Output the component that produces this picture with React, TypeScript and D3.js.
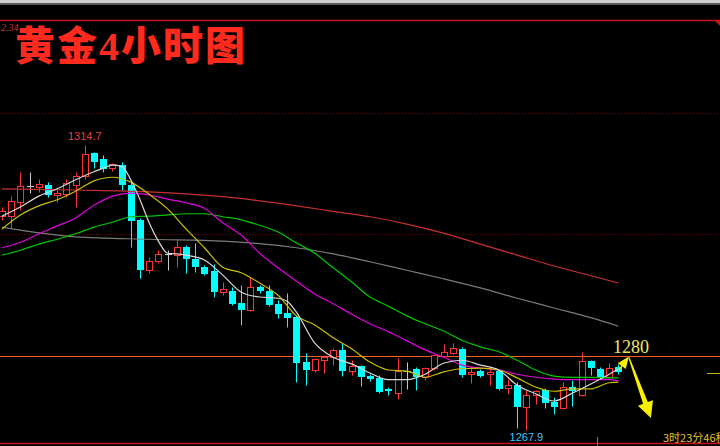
import React from "react";
import * as d3 from "d3";

// 4-hour gold candles (oldest first)
const opens = [1303.0,1303.0,1305.3,1308.0,1307.8,1308.1,1306.5,1306.6,1308.1,1309.6,1313.4,1312.4,1310.9,1311.4,1308.1,1302.4,1294.1,1295.6,1296.8,1296.6,1297.9,1296.0,1294.6,1294.0,1290.5,1290.7,1288.7,1287.6,1291.3,1290.7,1288.6,1287.1,1286.4,1279.0,1277.7,1279.3,1279.8,1281.0,1277.5,1278.4,1276.7,1276.4,1274.6,1273.9,1277.5,1277.9,1276.5,1278.0,1280.0,1280.5,1281.2,1277.0,1277.5,1277.0,1277.5,1274.7,1275.2,1271.6,1273.6,1274.4,1272.4,1271.4,1274.9,1273.6,1279.2,1277.9,1276.5,1278.2];
const highs = [1304.5,1306.3,1310.3,1310.3,1309.1,1308.6,1307.3,1309.1,1310.3,1314.7,1313.6,1313.1,1311.7,1311.9,1308.6,1302.7,1296.3,1297.4,1297.4,1299.1,1298.3,1298.6,1295.0,1295.1,1292.2,1291.3,1291.7,1293.0,1291.7,1291.7,1289.2,1290.4,1286.7,1280.5,1279.7,1280.2,1281.3,1282.1,1279.3,1278.5,1277.0,1276.9,1274.9,1279.7,1279.0,1278.2,1278.2,1280.2,1282.0,1282.1,1281.5,1278.4,1277.9,1278.4,1277.7,1276.2,1275.7,1274.4,1274.4,1274.7,1273.3,1275.7,1276.1,1280.7,1279.3,1278.2,1278.8,1278.7];
const lows = [1302.4,1301.1,1304.0,1306.8,1307.0,1306.2,1305.3,1306.2,1304.5,1309.1,1310.9,1310.3,1310.4,1307.3,1297.9,1292.8,1293.7,1295.3,1294.1,1294.6,1293.7,1293.8,1293.3,1289.7,1290.0,1288.4,1285.1,1287.4,1290.4,1288.2,1286.2,1284.8,1275.7,1275.2,1277.4,1277.2,1278.5,1276.7,1276.9,1275.1,1275.9,1273.9,1273.6,1272.9,1274.6,1274.4,1276.1,1277.7,1279.8,1280.4,1276.5,1275.6,1276.5,1275.2,1274.4,1273.7,1268.2,1267.9,1272.1,1271.4,1270.5,1271.3,1271.8,1273.4,1276.9,1276.2,1276.4,1277.0];
const closes = [1303.8,1305.5,1308.0,1308.0,1308.3,1306.5,1306.8,1308.5,1309.6,1313.2,1311.9,1310.8,1311.6,1308.1,1302.2,1294.1,1295.6,1296.8,1296.8,1297.9,1296.0,1294.6,1293.5,1290.5,1291.0,1288.6,1287.6,1291.3,1290.7,1288.4,1286.9,1286.2,1278.8,1277.7,1279.5,1279.8,1281.0,1277.5,1278.4,1276.5,1276.2,1274.1,1274.2,1277.5,1277.5,1276.5,1278.0,1280.2,1280.7,1281.3,1276.9,1277.4,1276.7,1277.4,1274.6,1275.2,1271.6,1273.6,1274.2,1272.3,1271.6,1274.9,1274.2,1279.2,1278.0,1276.5,1278.0,1277.4];

// Moving averages, read at candle positions
const ma5Idx = [0,2,4,6,8,10,11,12,13,14,15,16,17,18,19,20,22,24,26,28,30,31,32,34,36,38,40,42,44,46,48,50,52,54,56,58,60,62,64,66,67];
const ma5 = [1303.0,1304.5,1306.3,1307.5,1309.0,1310.3,1310.9,1311.4,1311.2,1309.0,1305.7,1301.9,1298.9,1296.9,1296.8,1296.6,1295.8,1293.3,1290.5,1289.7,1289.5,1289.0,1287.2,1282.1,1279.8,1278.7,1277.2,1276.1,1276.1,1277.0,1278.8,1279.3,1278.5,1277.7,1275.2,1273.8,1272.6,1273.9,1275.4,1277.0,1277.9];
const maIdx = [0,2,4,6,8,10,12,14,16,18,20,22,24,26,28,30,32,34,36,38,40,42,44,46,48,50,52,54,56,58,60,62,64,66,67];
const ma10 = [1300.9,1303.2,1304.7,1305.7,1307.1,1308.8,1309.4,1308.6,1306.6,1304.2,1300.9,1297.8,1294.6,1293.7,1292.0,1290.0,1286.6,1285.1,1283.0,1281.2,1279.0,1277.7,1277.5,1276.5,1277.4,1277.9,1278.0,1277.7,1276.4,1274.9,1274.2,1274.6,1274.6,1275.6,1275.7];
const ma20 = [1297.8,1298.7,1300.1,1301.4,1302.7,1304.8,1306.3,1306.8,1306.5,1305.8,1305.2,1304.3,1301.9,1299.9,1296.9,1294.5,1292.3,1290.2,1288.6,1286.9,1285.3,1284.0,1282.5,1281.0,1279.8,1278.5,1278.0,1277.7,1277.0,1276.5,1276.2,1276.1,1276.1,1276.1,1275.9];
const ma30 = [1296.6,1297.4,1298.4,1299.2,1300.1,1301.2,1302.0,1302.9,1303.0,1303.2,1303.4,1303.4,1302.9,1302.4,1301.5,1300.4,1298.6,1296.9,1294.5,1292.2,1289.7,1288.2,1286.6,1285.3,1284.1,1282.6,1281.5,1280.7,1279.3,1277.7,1276.7,1276.5,1276.5,1276.4,1276.4];
const longIdx = [0,8,16,24,32,36,40,44,48,52,56,60,64,67];
const ma60 = [1301.2,1299.6,1299.2,1298.9,1297.8,1296.8,1295.5,1294.1,1292.7,1291.2,1289.5,1287.9,1286.3,1284.9];
const ma120 = [1307.5,1307.3,1307.0,1306.2,1304.7,1303.8,1302.9,1301.7,1300.2,1298.4,1296.6,1294.8,1293.2,1292.0];

const gridLevels = [1280, 1300, 1320];
const keyLevel = 1280;
const title = "黄金";
const titleNum = "4";
const titleTail = "小时图";
const topLabel = "2.34";
const countdown = "3时23分46秒";

const W = 720;
const H = 446;
const UP = "#ff3434";
const DOWN = "#00ffff";
const DOJI = "#c8c8c8";

export default function App() {
  const n = closes.length;
  const x = d3.scaleLinear().domain([0, n - 1]).range([2, 2 + 9.2 * (n - 1)]);
  const y = d3.scaleLinear().domain([1280, 1320]).range([356, 112.8]);
  const cx = (i: number) => Math.round(x(i)) + 0.5;
  const py = (v: number) => Math.round(y(v)) + 0.5;

  const maLine = (idx: number[], vals: number[]) =>
    d3
      .line<number>()
      .x((_, k) => x(idx[k]))
      .y((v) => y(v))
      .curve(d3.curveMonotoneX)(vals) || "";

  const mas = [
    { idx: longIdx, vals: ma120, color: "#c83030" },
    { idx: longIdx, vals: ma60, color: "#7a7a7a" },
    { idx: maIdx, vals: ma30, color: "#00c800" },
    { idx: maIdx, vals: ma20, color: "#e000e0" },
    { idx: maIdx, vals: ma10, color: "#c8c000" },
    { idx: ma5Idx, vals: ma5, color: "#d8d8d8" },
  ];

  const hiIdx = d3.maxIndex(highs);
  const loIdx = d3.minIndex(lows);
  const hi = highs[hiIdx];
  const lo = lows[loIdx];

  // forecast arrows around the key level
  const smallTip: [number, number] = [x(n - 1) + 10.5, y(keyLevel) + 0.5];
  const smallTail: [number, number] = [x(n - 1) + 0.5, y(1277.7)];
  const dir = (a: [number, number], b: [number, number]) => {
    const dx = b[0] - a[0];
    const dy = b[1] - a[1];
    const l = Math.hypot(dx, dy);
    return [dx / l, dy / l];
  };
  const [sdx, sdy] = dir(smallTail, smallTip);
  const sBase = [smallTip[0] - 12 * sdx, smallTip[1] - 12 * sdy];
  const smallHead = [
    smallTip,
    [sBase[0] + 5 * -sdy, sBase[1] + 5 * sdx],
    [sBase[0] - 5 * -sdy, sBase[1] - 5 * sdx],
  ];

  const bigTop: [number, number] = [smallTip[0], smallTip[1] + 1];
  const bigTip: [number, number] = [bigTop[0] + 22, y(1269.8)];
  const [bdx, bdy] = dir(bigTop, bigTip);
  const px = -bdy;
  const pyv = bdx;
  const bBase = [bigTip[0] - 16 * bdx, bigTip[1] - 16 * bdy];
  const bigArrow = [
    [bigTop[0] - 0.6 * px, bigTop[1] - 0.6 * pyv],
    [bigTop[0] + 0.6 * px, bigTop[1] + 0.6 * pyv],
    [bBase[0] + 2.5 * px, bBase[1] + 2.5 * pyv],
    [bBase[0] + 8 * px, bBase[1] + 8 * pyv],
    bigTip,
    [bBase[0] - 8 * px, bBase[1] - 8 * pyv],
    [bBase[0] - 2.5 * px, bBase[1] - 2.5 * pyv],
  ];
  const pts = (a: number[][]) => a.map((p) => p.join(",")).join(" ");

  return (
    <svg
      width={W}
      height={H}
      style={{ position: "absolute", left: 0, top: 0, display: "block", background: "#000" }}
    >
      <rect x={0} y={0} width={W} height={H} fill="#000" />
      {/* window strip */}
      <rect x={0} y={0} width={W} height={3} fill="#cfcfcf" />
      <rect x={0} y={3} width={W} height={2} fill="#5a5a5a" />

      {/* frame lines */}
      <line x1={0} x2={W} y1={20.5} y2={20.5} stroke="#c81414" strokeWidth={1.5} />
      <polygon points={`${W - 6},20 ${W},20 ${W},26`} fill="#c81414" />
      <line x1={0} x2={W} y1={443.5} y2={443.5} stroke="#c81414" strokeWidth={1.5} />
      <text x={1} y={31} fontSize={10} fill="#d83030" fontFamily="Liberation Serif" fontStyle="italic">
        {topLabel}
      </text>

      {/* price grid */}
      {gridLevels.map((g) => (
        <line
          key={g}
          x1={0}
          x2={W}
          y1={py(g)}
          y2={py(g)}
          stroke="#8a0000"
          strokeDasharray="1,2"
        />
      ))}

      {/* key level */}
      <line x1={0} x2={W} y1={py(keyLevel)} y2={py(keyLevel)} stroke="#ff5a2a" strokeWidth={1} />

      {/* candles */}
      {closes.map((c, i) => {
        const o = opens[i];
        const h = highs[i];
        const l = lows[i];
        const xc = cx(i);
        if (o === c) {
          return (
            <g key={i} stroke={DOJI} strokeWidth={1}>
              <line x1={xc} x2={xc} y1={py(h)} y2={py(l)} />
              <line x1={xc - 3.5} x2={xc + 3.5} y1={py(c)} y2={py(c)} />
            </g>
          );
        }
        if (c > o) {
          const top = py(c);
          const bot = py(o);
          return (
            <g key={i} stroke={UP} strokeWidth={1}>
              <line x1={xc} x2={xc} y1={py(h)} y2={top} />
              <line x1={xc} x2={xc} y1={bot} y2={py(l)} />
              <rect x={xc - 3} y={top} width={6} height={Math.max(1, bot - top)} fill="#000" />
            </g>
          );
        }
        const top = Math.round(y(o));
        const bot = Math.round(y(c));
        return (
          <g key={i}>
            <line x1={xc} x2={xc} y1={py(h)} y2={py(l)} stroke={DOWN} strokeWidth={1} />
            <rect x={xc - 3.5} y={top} width={7} height={Math.max(1, bot - top)} fill={DOWN} />
          </g>
        );
      })}

      {/* moving averages */}
      {mas.map((m, k) => (
        <path key={k} d={maLine(m.idx, m.vals)} fill="none" stroke={m.color} strokeWidth={1.2} />
      ))}

      {/* extremes */}
      <text x={x(hiIdx)} y={y(hi) - 5} textAnchor="middle" fontSize={11} fill="#e84040" fontFamily="Liberation Sans">
        {hi.toFixed(1)}
      </text>
      <text x={x(loIdx)} y={y(lo) + 11} textAnchor="middle" fontSize={11} fill="#40c8f0" fontFamily="Liberation Sans">
        {lo.toFixed(1)}
      </text>

      {/* arrows */}
      <line
        x1={smallTail[0]}
        y1={smallTail[1]}
        x2={sBase[0]}
        y2={sBase[1]}
        stroke="#f8f000"
        strokeWidth={1.5}
      />
      <polygon points={pts(smallHead)} fill="#f8f000" />
      <polygon points={pts(bigArrow)} fill="#f8f000" />
      <text x={613} y={y(keyLevel) - 3} fontSize={18} fill="#f0e860" fontFamily="Liberation Serif">
        {keyLevel}
      </text>

      {/* last price marker and timer */}
      <line x1={707} x2={W} y1={py(closes[n - 1]) + 1} y2={py(closes[n - 1]) + 1} stroke="#c8b400" />
      <line x1={597.5} x2={597.5} y1={437} y2={H} stroke="#808080" />
      <text x={663} y={442} fontSize={11} fill="#e8c020" fontFamily="Noto Sans CJK SC">
        {countdown}
      </text>

      {/* title */}
      <text x={15} y={60} fontSize={40} fill="#ff2a1e" fontWeight={900} fontFamily="'Noto Sans CJK SC'" letterSpacing={2}>
        {title}
        <tspan fontFamily="'Liberation Serif'" fontWeight={700}>{titleNum}</tspan>
        {titleTail}
      </text>
    </svg>
  );
}
